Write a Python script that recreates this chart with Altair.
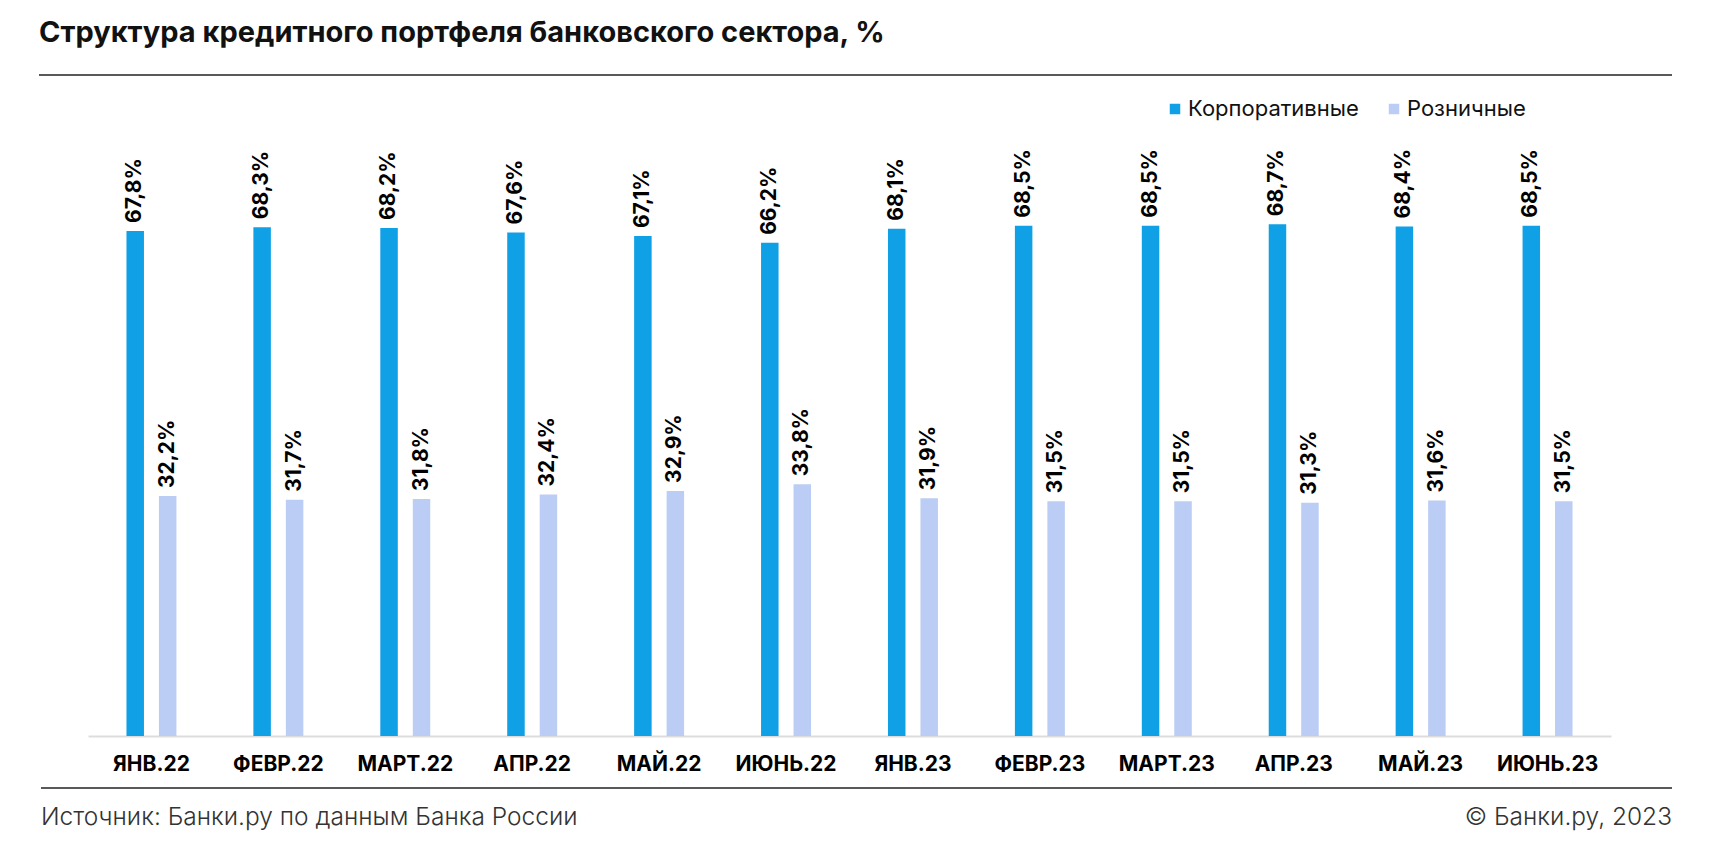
import altair as alt
import pandas as pd

months = ["ЯНВ.22", "ФЕВР.22", "МАРТ.22", "АПР.22", "МАЙ.22", "ИЮНЬ.22",
          "ЯНВ.23", "ФЕВР.23", "МАРТ.23", "АПР.23", "МАЙ.23", "ИЮНЬ.23"]
corporate = [67.8, 68.3, 68.2, 67.6, 67.1, 66.2, 68.1, 68.5, 68.5, 68.7, 68.4, 68.5]
retail = [32.2, 31.7, 31.8, 32.4, 32.9, 33.8, 31.9, 31.5, 31.5, 31.3, 31.6, 31.5]
series = ["Корпоративные", "Розничные"]
colors = ["#0FA0E6", "#BBCDF4"]

title_text = "Структура кредитного портфеля банковского сектора, %"
source_text = "Источник: Банки.ру по данным Банка России"
copyright_text = "© Банки.ру, 2023"

rows = []
for m, c, r in zip(months, corporate, retail):
    rows.append({"month": m, "series": series[0], "value": c})
    rows.append({"month": m, "series": series[1], "value": r})
df = pd.DataFrame(rows)
df["label"] = df["value"].map(lambda v: f"{v:.1f}".replace(".", ",") + "%")

FONT = "Inter"
W, H = 1523, 596
PL, PT = 88, 140

x_enc = alt.X("month:N", sort=months, title=None,
              scale=alt.Scale(paddingInner=0.6063, paddingOuter=0.3031),
              axis=alt.Axis(labelAngle=0, labelFont=FONT, labelFontSize=21,
                            labelFontWeight="bold", labelColor="#000000",
                            labelPadding=17, ticks=False, tickSize=0, labelLimit=0,
                            domainColor="#dddddd", domainWidth=2, grid=False))
xo_enc = alt.XOffset("series:N", sort=series,
                     scale=alt.Scale(domain=series, paddingInner=0.4615, paddingOuter=0))
y_enc = alt.Y("value:Q", scale=alt.Scale(domain=[0, 80]), axis=None)

base = alt.Chart(df)
bars = base.mark_bar().encode(
    x=x_enc, xOffset=xo_enc, y=y_enc,
    color=alt.Color("series:N", scale=alt.Scale(domain=series, range=colors),
                    legend=alt.Legend(title=None, orient="none", legendX=1076, legendY=-42,
                                      direction="horizontal", symbolType="square",
                                      symbolSize=110, symbolStrokeWidth=0,
                                      labelFont=FONT, labelFontSize=22, labelLimit=0,
                                      labelColor="#111111", columnPadding=24,
                                      symbolOffset=0, labelOffset=2)),
)
labels = base.mark_text(angle=270, align="left", baseline="middle", dx=8,
                        font=FONT, fontSize=21, fontWeight="bold", color="#000000").encode(
    x=x_enc, xOffset=xo_enc, y=y_enc, text="label:N")

one = pd.DataFrame({"t": [title_text]})
title = alt.Chart(one).mark_text(align="left", baseline="middle", font=FONT, fontSize=29,
                                 fontWeight="bold", color="#111111").encode(
    text="t:N", x=alt.value(39 - PL), y=alt.value(33 - PT))
top_line = alt.Chart(one).mark_rule(color="#222222", strokeWidth=1.5).encode(
    x=alt.value(39 - PL), x2=alt.value(1672 - PL), y=alt.value(75 - PT))
bottom_line = alt.Chart(one).mark_rule(color="#222222", strokeWidth=1.5).encode(
    x=alt.value(41 - PL), x2=alt.value(1672 - PL), y=alt.value(788 - PT))
src = alt.Chart(pd.DataFrame({"t": [source_text]})).mark_text(
    align="left", baseline="middle", font=FONT, fontSize=24.5, fontWeight=300,
    color="#333333").encode(text="t:N", x=alt.value(41 - PL), y=alt.value(818 - PT))
copy_ = alt.Chart(pd.DataFrame({"t": [copyright_text]})).mark_text(
    align="right", baseline="middle", font=FONT, fontSize=24.5, fontWeight=300,
    color="#333333").encode(text="t:N", x=alt.value(1672 - PL), y=alt.value(818 - PT))

chart = alt.layer(bars, labels, title, top_line, bottom_line, src, copy_).properties(
    width=W, height=H,
    autosize=alt.AutoSizeParams(type="none"),
    padding={"left": PL, "top": PT, "right": 1712 - PL - W, "bottom": 850 - PT - H},
    background="#ffffff",
).configure_view(stroke=None)

chart.save("out.html", embed_options={"renderer": "svg", "actions": False})
